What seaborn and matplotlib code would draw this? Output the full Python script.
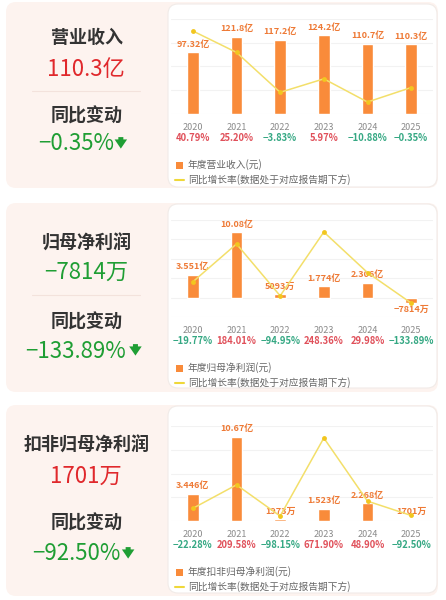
import numpy as np
import pandas as pd
import matplotlib.pyplot as plt
from matplotlib.patches import FancyBboxPatch, Rectangle
import seaborn as sns

## data
years = ['2020', '2021', '2022', '2023', '2024', '2025']

# 营业收入 (亿元)
revenue = [97.32, 121.8, 117.2, 124.2, 110.7, 110.3]
revenue_labels = ['97.32亿', '121.8亿', '117.2亿', '124.2亿', '110.7亿', '110.3亿']
revenue_yoy = [40.79, 25.20, -3.83, 5.97, -10.88, -0.35]

# 归母净利润 (亿元)
netprofit = [3.551, 10.08, 0.5093, 1.774, 2.306, -0.7814]
netprofit_labels = ['3.551亿', '10.08亿', '5093万', '1.774亿', '2.306亿', '-7814万']
netprofit_yoy = [-19.77, 184.01, -94.95, 248.36, 29.98, -133.89]

# 扣非归母净利润 (亿元)
deducted = [3.446, 10.67, 0.1973, 1.523, 2.268, 0.1701]
deducted_labels = ['3.446亿', '10.67亿', '1973万', '1.523亿', '2.268亿', '1701万']
deducted_yoy = [-22.28, 209.58, -98.15, 671.90, 48.90, -92.50]

titles = ['营业收入', '归母净利润', '扣非归母净利润']
headline_values = ['110.3亿', '−7814万', '1701万']
headline_changes = [-0.35, -133.89, -92.50]
bar_legends = ['年度营业收入(元)', '年度归母净利润(元)', '年度扣非归母净利润(元)']
line_legend = '同比增长率(数据处于对应报告期下方)'

## colours
c_bar = '#f98b3a'
c_label = '#ee7a36'
c_line = '#f3df6a'
c_dot = '#f2c61f'
c_red = '#e0282c'
c_green = '#1f9e34'
c_pct_red = '#e0505a'
c_pct_green = '#35a883'
c_pink = '#fdf3ef'

sns.set_theme(style='white')
plt.rcParams['font.family'] = ['Noto Sans CJK SC', 'DejaVu Sans']
plt.rcParams['axes.unicode_minus'] = True

W, H = 446, 600
fig = plt.figure(figsize=(W / 100, H / 100), dpi=100)

# background axes in pixel coordinates
bg = fig.add_axes([0, 0, 1, 1])
bg.set_xlim(0, W)
bg.set_ylim(H, 0)
bg.axis('off')

# per panel layout: card top/bottom, chart axes top/bottom (px), bar ylim, grid, twin ylim, title ys
panels = [
    dict(card=(2, 188), white=(4, 187), ax=(19, 114), ylim=(0, 150), grid=np.linspace(0, 150, 5),
         ylim2=(-19.6, 49.5), bars=revenue, labels=revenue_labels, yoy=revenue_yoy,
         ys=(37, 69, 116, 144), divider=91),
    dict(card=(203, 392), white=(204, 388), ax=(220, 317), ylim=(-3, 12), grid=np.linspace(-3, 12, 6),
         ylim2=(-209, 313), bars=netprofit, labels=netprofit_labels, yoy=netprofit_yoy,
         ys=(243, 272, 322, 351), divider=295),
    dict(card=(405, 596), white=(406, 593), ax=(426, 521), ylim=(0, 12), grid=np.linspace(0, 12, 5),
         ylim2=(-147, 790), bars=deducted, labels=deducted_labels, yoy=deducted_yoy,
         ys=(445, 476, 523, 554), divider=None),
]

ax_left, ax_right = 171, 433

for k, p in enumerate(panels):
    top, bot = p['card']
    bg.add_patch(FancyBboxPatch((6, top), 432, bot - top, boxstyle='round,pad=0,rounding_size=10',
                                facecolor=c_pink, edgecolor='none'))
    wt, wb = p['white']
    bg.add_patch(FancyBboxPatch((168, wt), 269, wb - wt, boxstyle='round,pad=0,rounding_size=10',
                                facecolor='white', edgecolor='#f1ebe8', linewidth=0.8))

    # left summary
    y_title, y_val, y_chg_title, y_chg = p['ys']
    bg.text(87, y_title, titles[k], ha='center', va='center', fontsize=13, fontweight='bold', color='#333333')
    val_color = c_green if headline_values[k].startswith('−') else c_red
    bg.text(86, y_val, headline_values[k], ha='center', va='center', fontsize=16, color=val_color)
    if p['divider'] is not None:
        bg.plot([32, 140], [p['divider'], p['divider']], color='#f3e2dc', lw=0.8)
    bg.text(87, y_chg_title, '同比变动', ha='center', va='center', fontsize=13, fontweight='bold', color='#333333')
    chg = headline_changes[k]
    chg_color = c_green if chg < 0 else c_red
    t = bg.text(76, y_chg, f'{chg:.2f}%'.replace('-', '−'), ha='center', va='center', fontsize=16, color=chg_color)
    # solid down arrow just right of the percentage
    bg.annotate('', xy=(1.09, 0.3), xycoords=t, xytext=(1.09, 0.8), textcoords=t,
                arrowprops=dict(arrowstyle='simple,head_length=0.55,head_width=0.75,tail_width=0.3',
                                mutation_scale=12, color=chg_color, shrinkA=0, shrinkB=0, lw=0))

    # chart
    at, ab = p['ax']
    ax = fig.add_axes([ax_left / W, 1 - ab / H, (ax_right - ax_left) / W, (ab - at) / H])
    ax.set_facecolor('none')
    sns.barplot(x=years, y=p['bars'], color=c_bar, width=0.27, saturation=1, ax=ax, zorder=2)

    ax2 = ax.twinx()
    sns.lineplot(x=np.arange(len(years)), y=p['yoy'], ax=ax2, color=c_line, lw=1.1, marker='o',
                 markersize=3.5, markerfacecolor=c_dot, markeredgewidth=0)
    ax2.set_ylim(*p['ylim2'])
    ax2.axis('off')

    ax.set_xlim(-0.5, 5.5)
    ax.set_ylim(*p['ylim'])
    ax.set_yticks(p['grid'])
    ax.yaxis.grid(True, color='#f2f2f2', lw=0.8, zorder=0)
    ax.set_axisbelow(True)
    ax.tick_params(axis='y', left=False, right=False, labelleft=False, labelright=False)
    ax.tick_params(axis='x', length=0, pad=6.5, labelsize=6.5, labelcolor='#8a8a8a')
    for s in ax.spines.values():
        s.set_visible(False)
    ax.set_xlabel('')
    ax.set_ylabel('')

    for i, (v, lab) in enumerate(zip(p['bars'], p['labels'])):
        if v >= 0:
            ax.annotate(lab, (i, v), xytext=(0, 2.5), textcoords='offset points', ha='center', va='bottom',
                        fontsize=6.5, fontweight='bold', color=c_label)
        else:
            ax.annotate(lab.replace('-', '−'), (i, v), xytext=(0, -2), textcoords='offset points', ha='center',
                        va='top', fontsize=6.5, fontweight='bold', color=c_label)

    for i, r in enumerate(p['yoy']):
        ax.annotate(f'{r:.2f}%'.replace('-', '−'), xy=(i, 0), xycoords=('data', 'axes fraction'),
                    xytext=(0, -17), textcoords='offset points', ha='center', va='center',
                    fontsize=6.8, fontweight='bold', color=c_pct_green if r < 0 else c_pct_red)

    # legend
    ly1, ly2 = ab + 51, ab + 66
    bg.add_patch(Rectangle((176, ly1 - 3.5), 7, 7, facecolor=c_bar, edgecolor='none'))
    bg.text(188, ly1, bar_legends[k], ha='left', va='center', fontsize=7, color='#666666')
    bg.plot([175, 184], [ly2, ly2], color='#efd83a', lw=1.5)
    bg.text(188, ly2, line_legend, ha='left', va='center', fontsize=7, color='#666666')

fig.savefig('out.png', dpi=100)
